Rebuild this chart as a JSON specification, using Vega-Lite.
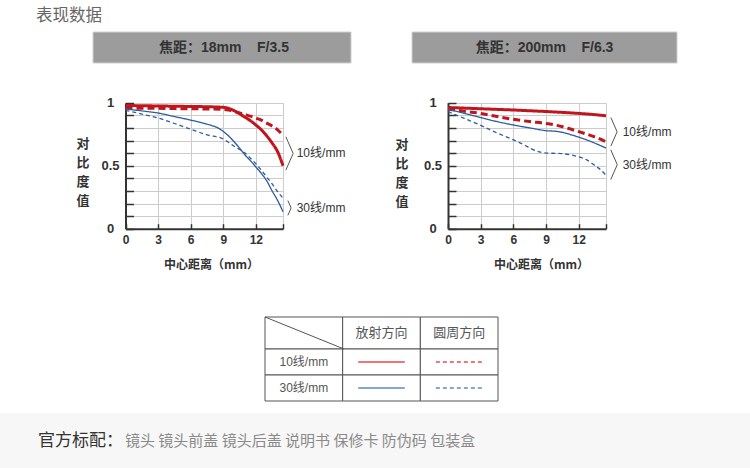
{
  "$schema": "https://vega.github.io/schema/vega-lite/v6.json",
  "width": 750,
  "height": 468,
  "autosize": {"type": "none"},
  "padding": 0,
  "background": "#ffffff",
  "config": {"view": {"stroke": null}},
  "datasets": {
    "mtf18": [
      {"freq":"10线/mm","dir":"放射方向","x":0,"y":0.978},{"freq":"10线/mm","dir":"放射方向","x":1.5,"y":0.976},{"freq":"10线/mm","dir":"放射方向","x":3,"y":0.974},{"freq":"10线/mm","dir":"放射方向","x":4.5,"y":0.972},{"freq":"10线/mm","dir":"放射方向","x":6,"y":0.97},{"freq":"10线/mm","dir":"放射方向","x":7.5,"y":0.968},{"freq":"10线/mm","dir":"放射方向","x":9,"y":0.963},{"freq":"10线/mm","dir":"放射方向","x":9.5,"y":0.955},{"freq":"10线/mm","dir":"放射方向","x":10,"y":0.937},{"freq":"10线/mm","dir":"放射方向","x":10.5,"y":0.912},{"freq":"10线/mm","dir":"放射方向","x":11,"y":0.885},{"freq":"10线/mm","dir":"放射方向","x":11.5,"y":0.857},{"freq":"10线/mm","dir":"放射方向","x":12,"y":0.823},{"freq":"10线/mm","dir":"放射方向","x":12.5,"y":0.785},{"freq":"10线/mm","dir":"放射方向","x":13,"y":0.737},{"freq":"10线/mm","dir":"放射方向","x":13.5,"y":0.68},{"freq":"10线/mm","dir":"放射方向","x":14,"y":0.612},{"freq":"10线/mm","dir":"放射方向","x":14.5,"y":0.5},
      {"freq":"10线/mm","dir":"圆周方向","x":0,"y":0.958},{"freq":"10线/mm","dir":"圆周方向","x":1.5,"y":0.956},{"freq":"10线/mm","dir":"圆周方向","x":3,"y":0.955},{"freq":"10线/mm","dir":"圆周方向","x":4.5,"y":0.953},{"freq":"10线/mm","dir":"圆周方向","x":6,"y":0.952},{"freq":"10线/mm","dir":"圆周方向","x":7.5,"y":0.95},{"freq":"10线/mm","dir":"圆周方向","x":9,"y":0.947},{"freq":"10线/mm","dir":"圆周方向","x":9.5,"y":0.941},{"freq":"10线/mm","dir":"圆周方向","x":10,"y":0.931},{"freq":"10线/mm","dir":"圆周方向","x":10.5,"y":0.919},{"freq":"10线/mm","dir":"圆周方向","x":11,"y":0.906},{"freq":"10线/mm","dir":"圆周方向","x":11.5,"y":0.893},{"freq":"10线/mm","dir":"圆周方向","x":12,"y":0.878},{"freq":"10线/mm","dir":"圆周方向","x":12.5,"y":0.862},{"freq":"10线/mm","dir":"圆周方向","x":13,"y":0.838},{"freq":"10线/mm","dir":"圆周方向","x":13.5,"y":0.815},{"freq":"10线/mm","dir":"圆周方向","x":14,"y":0.785},{"freq":"10线/mm","dir":"圆周方向","x":14.5,"y":0.742},
      {"freq":"30线/mm","dir":"放射方向","x":0,"y":0.95},{"freq":"30线/mm","dir":"放射方向","x":1.5,"y":0.935},{"freq":"30线/mm","dir":"放射方向","x":3,"y":0.918},{"freq":"30线/mm","dir":"放射方向","x":4.5,"y":0.89},{"freq":"30线/mm","dir":"放射方向","x":6,"y":0.862},{"freq":"30线/mm","dir":"放射方向","x":7.5,"y":0.83},{"freq":"30线/mm","dir":"放射方向","x":8.5,"y":0.8},{"freq":"30线/mm","dir":"放射方向","x":9,"y":0.772},{"freq":"30线/mm","dir":"放射方向","x":9.5,"y":0.735},{"freq":"30线/mm","dir":"放射方向","x":10,"y":0.69},{"freq":"30线/mm","dir":"放射方向","x":10.5,"y":0.64},{"freq":"30线/mm","dir":"放射方向","x":11,"y":0.585},{"freq":"30线/mm","dir":"放射方向","x":11.5,"y":0.54},{"freq":"30线/mm","dir":"放射方向","x":12,"y":0.49},{"freq":"30线/mm","dir":"放射方向","x":12.5,"y":0.44},{"freq":"30线/mm","dir":"放射方向","x":13,"y":0.38},{"freq":"30线/mm","dir":"放射方向","x":13.5,"y":0.3},{"freq":"30线/mm","dir":"放射方向","x":14,"y":0.225},{"freq":"30线/mm","dir":"放射方向","x":14.5,"y":0.135},
      {"freq":"30线/mm","dir":"圆周方向","x":0,"y":0.94},{"freq":"30线/mm","dir":"圆周方向","x":1.5,"y":0.91},{"freq":"30线/mm","dir":"圆周方向","x":3,"y":0.878},{"freq":"30线/mm","dir":"圆周方向","x":4.5,"y":0.835},{"freq":"30线/mm","dir":"圆周方向","x":6,"y":0.79},{"freq":"30线/mm","dir":"圆周方向","x":7.5,"y":0.745},{"freq":"30线/mm","dir":"圆周方向","x":9,"y":0.712},{"freq":"30线/mm","dir":"圆周方向","x":9.5,"y":0.685},{"freq":"30线/mm","dir":"圆周方向","x":10,"y":0.655},{"freq":"30线/mm","dir":"圆周方向","x":10.5,"y":0.628},{"freq":"30线/mm","dir":"圆周方向","x":11,"y":0.6},{"freq":"30线/mm","dir":"圆周方向","x":11.5,"y":0.56},{"freq":"30线/mm","dir":"圆周方向","x":12,"y":0.515},{"freq":"30线/mm","dir":"圆周方向","x":12.5,"y":0.465},{"freq":"30线/mm","dir":"圆周方向","x":13,"y":0.41},{"freq":"30线/mm","dir":"圆周方向","x":13.5,"y":0.355},{"freq":"30线/mm","dir":"圆周方向","x":14,"y":0.295},{"freq":"30线/mm","dir":"圆周方向","x":14.5,"y":0.242}
    ],
    "mtf200": [
      {"freq":"10线/mm","dir":"放射方向","x":0,"y":0.962},{"freq":"10线/mm","dir":"放射方向","x":1.5,"y":0.957},{"freq":"10线/mm","dir":"放射方向","x":3,"y":0.952},{"freq":"10线/mm","dir":"放射方向","x":4.5,"y":0.947},{"freq":"10线/mm","dir":"放射方向","x":6,"y":0.942},{"freq":"10线/mm","dir":"放射方向","x":7.5,"y":0.936},{"freq":"10线/mm","dir":"放射方向","x":9,"y":0.93},{"freq":"10线/mm","dir":"放射方向","x":10.5,"y":0.923},{"freq":"10线/mm","dir":"放射方向","x":12,"y":0.915},{"freq":"10线/mm","dir":"放射方向","x":13.5,"y":0.905},{"freq":"10线/mm","dir":"放射方向","x":14.5,"y":0.896},
      {"freq":"10线/mm","dir":"圆周方向","x":0,"y":0.948},{"freq":"10线/mm","dir":"圆周方向","x":1.5,"y":0.932},{"freq":"10线/mm","dir":"圆周方向","x":3,"y":0.915},{"freq":"10线/mm","dir":"圆周方向","x":4.5,"y":0.89},{"freq":"10线/mm","dir":"圆周方向","x":6,"y":0.868},{"freq":"10线/mm","dir":"圆周方向","x":7.5,"y":0.85},{"freq":"10线/mm","dir":"圆周方向","x":9,"y":0.835},{"freq":"10线/mm","dir":"圆周方向","x":10,"y":0.82},{"freq":"10线/mm","dir":"圆周方向","x":11,"y":0.797},{"freq":"10线/mm","dir":"圆周方向","x":12,"y":0.77},{"freq":"10线/mm","dir":"圆周方向","x":13,"y":0.743},{"freq":"10线/mm","dir":"圆周方向","x":14,"y":0.71},{"freq":"10线/mm","dir":"圆周方向","x":14.5,"y":0.69},
      {"freq":"30线/mm","dir":"放射方向","x":0,"y":0.948},{"freq":"30线/mm","dir":"放射方向","x":1.5,"y":0.915},{"freq":"30线/mm","dir":"放射方向","x":3,"y":0.882},{"freq":"30线/mm","dir":"放射方向","x":4.5,"y":0.85},{"freq":"30线/mm","dir":"放射方向","x":6,"y":0.823},{"freq":"30线/mm","dir":"放射方向","x":7.5,"y":0.8},{"freq":"30线/mm","dir":"放射方向","x":9,"y":0.778},{"freq":"30线/mm","dir":"放射方向","x":10,"y":0.772},{"freq":"30线/mm","dir":"放射方向","x":10.6,"y":0.762},{"freq":"30线/mm","dir":"放射方向","x":11.5,"y":0.74},{"freq":"30线/mm","dir":"放射方向","x":12.5,"y":0.712},{"freq":"30线/mm","dir":"放射方向","x":13.5,"y":0.678},{"freq":"30线/mm","dir":"放射方向","x":14.5,"y":0.64},
      {"freq":"30线/mm","dir":"圆周方向","x":0,"y":0.93},{"freq":"30线/mm","dir":"圆周方向","x":1.5,"y":0.875},{"freq":"30线/mm","dir":"圆周方向","x":3,"y":0.82},{"freq":"30线/mm","dir":"圆周方向","x":4.5,"y":0.76},{"freq":"30线/mm","dir":"圆周方向","x":6,"y":0.705},{"freq":"30线/mm","dir":"圆周方向","x":7,"y":0.665},{"freq":"30线/mm","dir":"圆周方向","x":7.8,"y":0.628},{"freq":"30线/mm","dir":"圆周方向","x":8.5,"y":0.607},{"freq":"30线/mm","dir":"圆周方向","x":9,"y":0.6},{"freq":"30线/mm","dir":"圆周方向","x":10,"y":0.598},{"freq":"30线/mm","dir":"圆周方向","x":11,"y":0.59},{"freq":"30线/mm","dir":"圆周方向","x":12,"y":0.57},{"freq":"30线/mm","dir":"圆周方向","x":12.7,"y":0.548},{"freq":"30线/mm","dir":"圆周方向","x":13.5,"y":0.5},{"freq":"30线/mm","dir":"圆周方向","x":14,"y":0.468},{"freq":"30线/mm","dir":"圆周方向","x":14.5,"y":0.424}
    ],
    "tableHead": [
      {"col":"线数","row":"表头","text":""},
      {"col":"放射方向","row":"表头","text":"放射方向"},
      {"col":"圆周方向","row":"表头","text":"圆周方向"}
    ],
    "tableBody": [
      {"col":"线数","row":"10线/mm","text":"10线/mm"},
      {"col":"放射方向","row":"10线/mm","text":""},
      {"col":"圆周方向","row":"10线/mm","text":""},
      {"col":"线数","row":"30线/mm","text":"30线/mm"},
      {"col":"放射方向","row":"30线/mm","text":""},
      {"col":"圆周方向","row":"30线/mm","text":""}
    ],
    "legendLines": [
      {"col":"放射方向","row":"10线/mm","end":"起"},{"col":"放射方向","row":"10线/mm","end":"止"},
      {"col":"圆周方向","row":"10线/mm","end":"起"},{"col":"圆周方向","row":"10线/mm","end":"止"},
      {"col":"放射方向","row":"30线/mm","end":"起"},{"col":"放射方向","row":"30线/mm","end":"止"},
      {"col":"圆周方向","row":"30线/mm","end":"起"},{"col":"圆周方向","row":"30线/mm","end":"止"}
    ]
  },
  "resolve": {"scale": {"x": "independent", "y": "independent", "xOffset": "independent", "color": "independent", "size": "independent", "strokeDash": "independent"}},
  "layer": [
    {
      "data": {"values": [{"zone": "页脚"}]},
      "mark": {"type": "rect", "fill": "#f7f7f7", "width": {"band": 1}, "height": {"band": 1}},
      "encoding": {
        "x": {"field": "zone", "type": "nominal", "scale": {"type": "band", "range": [0, 750], "paddingInner": 0, "paddingOuter": 0}, "axis": null},
        "y": {"field": "zone", "type": "nominal", "scale": {"type": "band", "range": [413, 468], "paddingInner": 0, "paddingOuter": 0}, "axis": null}
      }
    },
    {
      "data": {"values": [{"zone": "页脚", "part": "标题", "text": "官方标配："}, {"zone": "页脚", "part": "内容", "text": "镜头 镜头前盖 镜头后盖 说明书 保修卡 防伪码 包装盒"}]},
      "encoding": {
        "x": {"field": "part", "type": "nominal", "bandPosition": 0, "scale": {"type": "band", "domain": ["标题", "内容"], "range": [38, 212], "paddingInner": 0, "paddingOuter": 0}, "axis": null},
        "y": {"field": "zone", "type": "nominal", "scale": {"type": "band", "range": [413, 468], "paddingInner": 0, "paddingOuter": 0}, "axis": null},
        "text": {"field": "text"}
      },
      "layer": [
        {"transform": [{"filter": "datum.part == '标题'"}], "mark": {"type": "text", "align": "left", "baseline": "middle", "font": "Noto Sans CJK SC", "fontSize": 17, "color": "#333333"}},
        {"transform": [{"filter": "datum.part == '内容'"}], "mark": {"type": "text", "align": "left", "baseline": "middle", "font": "Noto Sans CJK SC", "fontSize": 15, "color": "#8a8a8a"}}
      ]
    },
    {
      "data": {"values": [{"zone": "页眉", "text": "表现数据"}]},
      "mark": {"type": "text", "align": "left", "baseline": "middle", "font": "Noto Sans CJK SC", "fontSize": 16.5, "color": "#666666"},
      "encoding": {
        "x": {"field": "zone", "type": "nominal", "bandPosition": 0, "scale": {"type": "band", "range": [36, 136], "paddingInner": 0, "paddingOuter": 0}, "axis": null},
        "y": {"field": "zone", "type": "nominal", "scale": {"type": "band", "range": [6, 26], "paddingInner": 0, "paddingOuter": 0}, "axis": null},
        "text": {"field": "text"}
      }
    },
    {
      "data": {"values": [{"panel": "18mm", "text": "焦距：18mm\u00a0\u00a0\u00a0\u00a0F/3.5"}]},
      "encoding": {
        "x": {"field": "panel", "type": "nominal", "scale": {"type": "band", "range": [93, 351], "paddingInner": 0, "paddingOuter": 0}, "axis": null},
        "y": {"field": "panel", "type": "nominal", "scale": {"type": "band", "range": [32, 63], "paddingInner": 0, "paddingOuter": 0}, "axis": null}
      },
      "layer": [
        {"mark": {"type": "rect", "fill": "#9c9c9c", "stroke": "#d0d0d0", "strokeWidth": 1, "width": {"band": 1}, "height": {"band": 1}}},
        {"mark": {"type": "text", "font": "Liberation Sans, Noto Sans CJK SC", "fontSize": 14, "fontWeight": "bold", "color": "#333333", "baseline": "middle", "dx": 2}, "encoding": {"text": {"field": "text"}}}
      ]
    },
    {
      "data": {"values": [{"panel": "200mm", "text": "焦距：200mm\u00a0\u00a0\u00a0\u00a0F/6.3"}]},
      "encoding": {
        "x": {"field": "panel", "type": "nominal", "scale": {"type": "band", "range": [412, 677], "paddingInner": 0, "paddingOuter": 0}, "axis": null},
        "y": {"field": "panel", "type": "nominal", "scale": {"type": "band", "range": [32, 63], "paddingInner": 0, "paddingOuter": 0}, "axis": null}
      },
      "layer": [
        {"mark": {"type": "rect", "fill": "#9c9c9c", "stroke": "#d0d0d0", "strokeWidth": 1, "width": {"band": 1}, "height": {"band": 1}}},
        {"mark": {"type": "text", "font": "Liberation Sans, Noto Sans CJK SC", "fontSize": 14, "fontWeight": "bold", "color": "#333333", "baseline": "middle"}, "encoding": {"text": {"field": "text"}}}
      ]
    },
    {
      "data": {"name": "mtf18"},
      "resolve": {"scale": {"strokeDash": "independent"}, "axis": {"x": "independent", "y": "independent"}},
      "layer": [
        {
          "transform": [{"filter": "datum.freq == '10线/mm'"}],
          "mark": {"type": "line", "color": "#c1151d", "strokeWidth": 3, "interpolate": "monotone"},
          "encoding": {
            "x": {"field": "x", "type": "quantitative", "scale": {"domain": [0, 14.5], "range": [125.5, 283], "nice": false, "zero": false},
              "axis": {"orient": "bottom", "offset": -239.3, "values": [0, 3, 6, 9, 12, 14.5], "labelExpr": "datum.value > 13 ? '' : datum.label", "grid": false, "labelFlush": false, "labelOverlap": false, "domainColor": "#333333", "domainWidth": 2, "tickColor": "#333333", "tickSize": -5, "tickWidth": 1.5, "labelPadding": 11, "labelFont": "Liberation Sans", "labelFontSize": 12, "labelFontWeight": "bold", "labelColor": "#333333", "title": "中心距离（mm）", "titleFont": "Noto Sans CJK SC", "titleFontSize": 12, "titleFontWeight": "bold", "titleColor": "#333333", "titleX": 211, "titleY": 35.6, "titleAlign": "center", "titleBaseline": "middle"}},
            "y": {"field": "y", "type": "quantitative", "scale": {"domain": [0, 1], "range": [228.7, 102.7], "nice": false, "zero": false},
              "axis": {"orient": "left", "offset": -125.5, "values": [0, 0.1, 0.2, 0.3, 0.4, 0.5, 0.6, 0.7, 0.8, 0.9, 1], "labelExpr": "datum.value == 0 ? '0' : datum.value == 0.5 ? '0.5' : datum.value == 1 ? '1' : ''", "labelOverlap": false, "labelAlign": "center", "grid": true, "gridColor": "#cccccc", "gridWidth": 1, "domainColor": "#333333", "domainWidth": 2, "tickColor": "#333333", "tickSize": -8, "tickWidth": 1.5, "labelPadding": 23.5, "labelFont": "Liberation Sans", "labelFontSize": 13, "labelFontWeight": "bold", "labelColor": "#333333", "title": ["对", "比", "度", "值"], "titleFont": "Noto Sans CJK SC", "titleFontSize": 13, "titleFontWeight": "bold", "titleColor": "#333333", "titleAngle": 0, "titleX": -43, "titleY": 143, "titleAlign": "center", "titleBaseline": "middle", "titleLineHeight": 19}},
            "strokeDash": {"field": "dir", "type": "nominal", "scale": {"domain": ["放射方向", "圆周方向"], "range": [[1, 0], [7, 4]]}, "legend": null}
          }
        },
        {
          "transform": [{"filter": "datum.freq == '30线/mm'"}],
          "mark": {"type": "line", "color": "#2c5c9d", "strokeWidth": 1.3, "interpolate": "monotone"},
          "encoding": {
            "x": {"field": "x", "type": "quantitative", "scale": {"domain": [0, 14.5], "range": [125.5, 283], "nice": false, "zero": false},
              "axis": {"orient": "top", "values": [3, 6, 9, 12, 14.5], "grid": true, "gridColor": "#cccccc", "gridWidth": 1, "domain": false, "ticks": false, "labels": false, "title": null}},
            "y": {"field": "y", "type": "quantitative", "scale": {"domain": [0, 1], "range": [228.7, 102.7], "nice": false, "zero": false}, "axis": null},
            "strokeDash": {"field": "dir", "type": "nominal", "scale": {"domain": ["放射方向", "圆周方向"], "range": [[1, 0], [4, 3]]}, "legend": null}
          }
        },
        {
          "transform": [{"filter": "datum.x == 14.5"}],
          "mark": {"type": "point", "shape": "M-0.22,-1L0.22,0L-0.22,1", "filled": false, "color": "#555555", "strokeWidth": 1, "opacity": 1, "xOffset": 6.5, "yOffset": 3},
          "encoding": {
            "x": {"aggregate": "max", "field": "x", "type": "quantitative", "scale": {"domain": [0, 14.5], "range": [125.5, 283], "nice": false, "zero": false}, "axis": null},
            "y": {"aggregate": "mean", "field": "y", "type": "quantitative", "scale": {"domain": [0, 1], "range": [228.7, 102.7], "nice": false, "zero": false}, "axis": null},
            "size": {"aggregate": "stdevp", "field": "y", "type": "quantitative", "scale": {"type": "pow", "exponent": 2, "domain": [0, 0.1], "range": [0, 760]}, "legend": null},
            "detail": {"field": "freq", "type": "nominal"}
          }
        },
        {
          "transform": [{"filter": "datum.x == 14.5"}],
          "mark": {"type": "text", "align": "left", "baseline": "middle", "dx": 13.7, "dy": 3, "font": "Liberation Sans, Noto Sans CJK SC", "fontSize": 12, "color": "#333333"},
          "encoding": {
            "x": {"aggregate": "max", "field": "x", "type": "quantitative", "scale": {"domain": [0, 14.5], "range": [125.5, 283], "nice": false, "zero": false}, "axis": null},
            "y": {"aggregate": "mean", "field": "y", "type": "quantitative", "scale": {"domain": [0, 1], "range": [228.7, 102.7], "nice": false, "zero": false}, "axis": null},
            "text": {"field": "freq", "type": "nominal"}
          }
        }
      ]
    },
    {
      "data": {"name": "mtf200"},
      "resolve": {"scale": {"strokeDash": "independent"}, "axis": {"x": "independent", "y": "independent"}},
      "layer": [
        {
          "transform": [{"filter": "datum.freq == '10线/mm'"}],
          "mark": {"type": "line", "color": "#c1151d", "strokeWidth": 3, "interpolate": "monotone"},
          "encoding": {
            "x": {"field": "x", "type": "quantitative", "scale": {"domain": [0, 14.5], "range": [448, 606], "nice": false, "zero": false},
              "axis": {"orient": "bottom", "offset": -239.3, "values": [0, 3, 6, 9, 12, 14.5], "labelExpr": "datum.value > 13 ? '' : datum.label", "grid": false, "labelFlush": false, "labelOverlap": false, "domainColor": "#333333", "domainWidth": 2, "tickColor": "#333333", "tickSize": -5, "tickWidth": 1.5, "labelPadding": 11, "labelFont": "Liberation Sans", "labelFontSize": 12, "labelFontWeight": "bold", "labelColor": "#333333", "title": "中心距离（mm）", "titleFont": "Noto Sans CJK SC", "titleFontSize": 12, "titleFontWeight": "bold", "titleColor": "#333333", "titleX": 541, "titleY": 35.6, "titleAlign": "center", "titleBaseline": "middle"}},
            "y": {"field": "y", "type": "quantitative", "scale": {"domain": [0, 1], "range": [228.7, 102.7], "nice": false, "zero": false},
              "axis": {"orient": "left", "offset": -448, "values": [0, 0.1, 0.2, 0.3, 0.4, 0.5, 0.6, 0.7, 0.8, 0.9, 1], "labelExpr": "datum.value == 0 ? '0' : datum.value == 0.5 ? '0.5' : datum.value == 1 ? '1' : ''", "labelOverlap": false, "labelAlign": "center", "grid": true, "gridColor": "#cccccc", "gridWidth": 1, "domainColor": "#333333", "domainWidth": 2, "tickColor": "#333333", "tickSize": -8, "tickWidth": 1.5, "labelPadding": 23.5, "labelFont": "Liberation Sans", "labelFontSize": 13, "labelFontWeight": "bold", "labelColor": "#333333", "title": ["对", "比", "度", "值"], "titleFont": "Noto Sans CJK SC", "titleFontSize": 13, "titleFontWeight": "bold", "titleColor": "#333333", "titleAngle": 0, "titleX": -46.5, "titleY": 144, "titleAlign": "center", "titleBaseline": "middle", "titleLineHeight": 19}},
            "strokeDash": {"field": "dir", "type": "nominal", "scale": {"domain": ["放射方向", "圆周方向"], "range": [[1, 0], [7, 4]]}, "legend": null}
          }
        },
        {
          "transform": [{"filter": "datum.freq == '30线/mm'"}],
          "mark": {"type": "line", "color": "#2c5c9d", "strokeWidth": 1.3, "interpolate": "monotone"},
          "encoding": {
            "x": {"field": "x", "type": "quantitative", "scale": {"domain": [0, 14.5], "range": [448, 606], "nice": false, "zero": false},
              "axis": {"orient": "top", "values": [3, 6, 9, 12, 14.5], "grid": true, "gridColor": "#cccccc", "gridWidth": 1, "domain": false, "ticks": false, "labels": false, "title": null}},
            "y": {"field": "y", "type": "quantitative", "scale": {"domain": [0, 1], "range": [228.7, 102.7], "nice": false, "zero": false}, "axis": null},
            "strokeDash": {"field": "dir", "type": "nominal", "scale": {"domain": ["放射方向", "圆周方向"], "range": [[1, 0], [4, 3]]}, "legend": null}
          }
        },
        {
          "transform": [{"filter": "datum.x == 14.5"}],
          "mark": {"type": "point", "shape": "M-0.22,-1L0.22,0L-0.22,1", "filled": false, "color": "#555555", "strokeWidth": 1, "opacity": 1, "xOffset": 8, "yOffset": 3},
          "encoding": {
            "x": {"aggregate": "max", "field": "x", "type": "quantitative", "scale": {"domain": [0, 14.5], "range": [448, 606], "nice": false, "zero": false}, "axis": null},
            "y": {"aggregate": "mean", "field": "y", "type": "quantitative", "scale": {"domain": [0, 1], "range": [228.7, 102.7], "nice": false, "zero": false}, "axis": null},
            "size": {"aggregate": "stdevp", "field": "y", "type": "quantitative", "scale": {"type": "pow", "exponent": 2, "domain": [0, 0.1], "range": [0, 760]}, "legend": null},
            "detail": {"field": "freq", "type": "nominal"}
          }
        },
        {
          "transform": [{"filter": "datum.x == 14.5"}],
          "mark": {"type": "text", "align": "left", "baseline": "middle", "dx": 16.7, "dy": 3, "font": "Liberation Sans, Noto Sans CJK SC", "fontSize": 12, "color": "#333333"},
          "encoding": {
            "x": {"aggregate": "max", "field": "x", "type": "quantitative", "scale": {"domain": [0, 14.5], "range": [448, 606], "nice": false, "zero": false}, "axis": null},
            "y": {"aggregate": "mean", "field": "y", "type": "quantitative", "scale": {"domain": [0, 1], "range": [228.7, 102.7], "nice": false, "zero": false}, "axis": null},
            "text": {"field": "freq", "type": "nominal"}
          }
        }
      ]
    },
    {
      "data": {"name": "tableHead"},
      "encoding": {
        "x": {"field": "col", "type": "nominal", "scale": {"type": "band", "domain": ["线数", "放射方向", "圆周方向"], "range": [265, 498], "paddingInner": 0, "paddingOuter": 0}, "axis": null},
        "y": {"field": "row", "type": "nominal", "scale": {"type": "band", "domain": ["表头"], "range": [317, 349], "paddingInner": 0, "paddingOuter": 0}, "axis": null}
      },
      "layer": [
        {"mark": {"type": "rect", "fill": "#ffffff", "stroke": "#555555", "strokeWidth": 1, "width": {"band": 1}, "height": {"band": 1}}},
        {"mark": {"type": "text", "font": "Noto Sans CJK SC", "fontSize": 13, "color": "#555555", "baseline": "middle"}, "encoding": {"text": {"field": "text"}}}
      ]
    },
    {
      "resolve": {"scale": {"xOffset": "independent", "color": "independent", "strokeDash": "independent"}},
      "encoding": {
        "x": {"field": "col", "type": "nominal", "scale": {"type": "band", "domain": ["线数", "放射方向", "圆周方向"], "range": [265, 498], "paddingInner": 0, "paddingOuter": 0}, "axis": null},
        "y": {"field": "row", "type": "nominal", "scale": {"type": "band", "domain": ["10线/mm", "30线/mm"], "range": [349, 401], "paddingInner": 0, "paddingOuter": 0}, "axis": null}
      },
      "layer": [
        {"data": {"name": "tableBody"}, "mark": {"type": "rect", "fill": "#ffffff", "stroke": "#555555", "strokeWidth": 1, "width": {"band": 1}, "height": {"band": 1}}},
        {"data": {"name": "tableBody"}, "mark": {"type": "text", "font": "Liberation Sans, Noto Sans CJK SC", "fontSize": 12, "color": "#555555", "baseline": "middle"}, "encoding": {"text": {"field": "text"}}},
        {
          "data": {"name": "legendLines"},
          "mark": {"type": "line", "strokeWidth": 1.5},
          "encoding": {
            "xOffset": {"field": "end", "type": "nominal", "scale": {"type": "point", "domain": ["起", "止"], "padding": 0.333}},
            "color": {"field": "row", "type": "nominal", "scale": {"domain": ["10线/mm", "30线/mm"], "range": ["#e64a4f", "#5d89bd"]}, "legend": null},
            "strokeDash": {"field": "col", "type": "nominal", "scale": {"domain": ["放射方向", "圆周方向"], "range": [[1, 0], [4, 3]]}, "legend": null}
          }
        }
      ]
    },
    {
      "data": {"values": [{"p": "起"}, {"p": "止"}]},
      "mark": {"type": "line", "color": "#555555", "strokeWidth": 1},
      "encoding": {
        "x": {"field": "p", "type": "nominal", "scale": {"type": "point", "domain": ["起", "止"], "range": [265, 344], "padding": 0}, "axis": null},
        "y": {"field": "p", "type": "nominal", "scale": {"type": "point", "domain": ["起", "止"], "range": [317, 349], "padding": 0}, "axis": null}
      }
    }
  ]
}
